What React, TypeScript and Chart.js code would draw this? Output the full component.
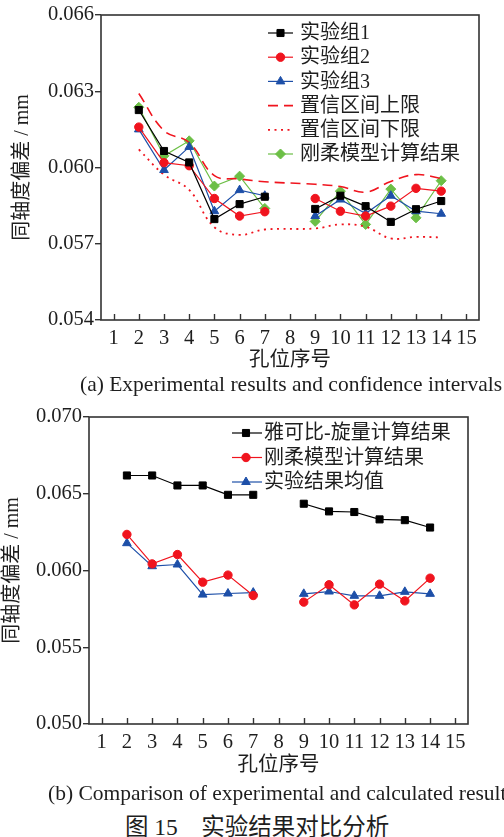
import React, { useEffect, useRef } from 'react';
import { Chart, registerables } from 'chart.js';
import { drawPoint } from 'chart.js/helpers';

Chart.register(...registerables);

// ---------- data ----------
const holeLabels = ['1', '2', '3', '4', '5', '6', '7', '8', '9', '10', '11', '12', '13', '14', '15'];

const yTicksA = [0.054, 0.057, 0.06, 0.063, 0.066];
const yTicksB = [0.05, 0.055, 0.06, 0.065, 0.07];

// chart (a)
const exp1 = [null, 0.06226, 0.06065, 0.0602, 0.05797, 0.05856, 0.05885, null, 0.05837, 0.05889, 0.05848, 0.05786, 0.05836, 0.05868, null];
const exp2 = [null, 0.06159, 0.06019, 0.06007, 0.05878, 0.05809, 0.05826, null, 0.05878, 0.05828, 0.05809, 0.05848, 0.05918, 0.05907, null];
const exp3 = [null, 0.0615, 0.0599, 0.06081, 0.05828, 0.05911, 0.05889, null, 0.05809, 0.05874, 0.05819, 0.05889, 0.05828, 0.05818, null];
const upperLimit = [null, 0.06291, 0.06145, 0.06098, 0.05968, 0.05955, 0.05944, null, 0.05934, 0.05925, 0.05903, 0.05945, 0.05972, 0.05957, null];
const lowerLimit = [null, 0.06071, 0.05972, 0.05912, 0.05765, 0.05735, 0.05756, null, 0.0576, 0.05776, 0.05767, 0.05721, 0.05727, 0.05725, null];
const rigidA = [null, 0.06237, 0.06046, 0.06105, 0.05927, 0.05966, 0.05839, null, 0.05788, 0.05907, 0.05776, 0.05915, 0.05802, 0.05948, null];

// chart (b)
const jacobi = [null, 0.06619, 0.06619, 0.06554, 0.06554, 0.06493, 0.06493, null, 0.06435, 0.06385, 0.06381, 0.06333, 0.06328, 0.0628, null];
const rigidB = [null, 0.06235, 0.06043, 0.06104, 0.05924, 0.0597, 0.05837, null, 0.05794, 0.05907, 0.05776, 0.05911, 0.05802, 0.0595, null];
const expMean = [null, 0.06178, 0.06028, 0.06039, 0.05843, 0.0585, 0.05856, null, 0.05848, 0.05863, 0.05835, 0.05835, 0.05861, 0.05848, null];

const namesA = ['实验组1', '实验组2', '实验组3', '置信区间上限', '置信区间下限', '刚柔模型计算结果'];
const namesB = ['雅可比-旋量计算结果', '刚柔模型计算结果', '实验结果均值'];

const xTitle = '孔位序号';
const yTitle = '同轴度偏差 / mm';
const captionA = '(a) Experimental results and confidence intervals';
const captionB = '(b) Comparison of experimental and calculated results';
const figCaption = '图 15\u3000实验结果对比分析';

// ---------- styles ----------
const FONT = "'Liberation Serif', 'Noto Sans CJK SC', serif";
const TXT = '#1e1e1e';
const AX = '#333';
const BLACK = '#000000';
const RED = '#f0141e';
const BLUE = '#1d4fa8';
const GREEN = '#6cbf46';

const insideLegend = {
  id: 'insideLegend',
  afterDatasetsDraw(chart: any, _args: any, opts: any) {
    const ctx = chart.ctx;
    chart.data.datasets.forEach((ds: any, i: number) => {
      const y = opts.y0 + i * opts.step;
      ctx.save();
      ctx.strokeStyle = ds.borderColor;
      ctx.lineWidth = ds.borderWidth;
      ctx.setLineDash(ds.borderDash || []);
      ctx.lineCap = ds.borderCapStyle || 'butt';
      ctx.beginPath();
      ctx.moveTo(opts.x0, y);
      ctx.lineTo(opts.x1, y);
      ctx.stroke();
      ctx.setLineDash([]);
      if (ds.pointRadius > 0) {
        ctx.fillStyle = ds.pointBackgroundColor;
        ctx.strokeStyle = ds.pointBorderColor;
        ctx.lineWidth = ds.pointBorderWidth;
        drawPoint(ctx, { pointStyle: ds.pointStyle, radius: ds.pointRadius, borderWidth: ds.pointBorderWidth, rotation: 0 }, opts.xm, y);
      }
      ctx.fillStyle = TXT;
      ctx.font = `20px ${FONT}`;
      ctx.textBaseline = 'middle';
      ctx.textAlign = 'left';
      ctx.fillText(ds.label, opts.xt, y + 1);
      ctx.restore();
    });
  },
};

const frame = {
  id: 'frame',
  afterDraw(chart: any) {
    const { ctx, chartArea: a, scales } = chart;
    const x = scales.x;
    ctx.save();
    ctx.strokeStyle = AX;
    ctx.lineWidth = 1.6;
    ctx.strokeRect(a.left, a.top, a.right - a.left, a.bottom - a.top);
    ctx.lineWidth = 1.4;
    x.ticks.forEach((_t: any, i: number) => {
      const px = Math.round(x.getPixelForTick(i)) + 0.5;
      ctx.beginPath();
      ctx.moveTo(px, a.bottom);
      ctx.lineTo(px, a.bottom - 6);
      ctx.stroke();
    });
    ctx.restore();
  },
};

function lineDs(label: string, data: any[], color: string, style: any, radius: number, fill?: string) {
  return {
    label,
    data,
    borderColor: color,
    backgroundColor: fill || color,
    borderWidth: 1.2,
    pointStyle: style,
    pointRadius: radius,
    pointHoverRadius: radius,
    pointBackgroundColor: fill || color,
    pointBorderColor: fill || color,
    pointBorderWidth: 1,
    spanGaps: false,
    tension: 0,
  };
}

function limitDs(label: string, data: any[], dash: number[], width: number) {
  return {
    label,
    data,
    borderColor: RED,
    backgroundColor: RED,
    borderWidth: width,
    borderDash: dash,
    pointRadius: 0,
    pointHoverRadius: 0,
    pointStyle: 'circle',
    spanGaps: true,
    tension: 0.4,
    pointBackgroundColor: RED,
    pointBorderColor: RED,
    pointBorderWidth: 0,
  };
}

function makeOptions(yTicks: number[], yMin: number, yMax: number, geo: any) {
  return {
    responsive: false,
    animation: false,
    devicePixelRatio: 1,
    layout: { padding: { top: geo.padTop, right: geo.padRight, left: 0, bottom: 0 } },
    plugins: {
      legend: { display: false },
      tooltip: { enabled: false },
      insideLegend: geo.legend,
    },
    scales: {
      x: {
        type: 'category',
        offset: true,
        grid: { display: false, drawTicks: false },
        border: { display: false },
        ticks: { color: TXT, font: { family: FONT, size: 20.5 }, padding: geo.xPad, maxRotation: 0, autoSkip: false },
        title: { display: true, text: xTitle, color: TXT, font: { family: FONT, size: 20.5 }, padding: { top: 0, bottom: geo.xTitlePad } },
        afterFit: (s: any) => { s.height = geo.xHeight; },
      },
      y: {
        type: 'linear',
        min: yMin,
        max: yMax,
        afterBuildTicks: (s: any) => { s.ticks = yTicks.map((v) => ({ value: v })); },
        grid: { display: true, drawOnChartArea: false, drawTicks: true, tickLength: 6, color: AX, lineWidth: 1.4 },
        border: { display: false },
        ticks: { color: TXT, font: { family: FONT, size: 20.5 }, padding: 1, callback: (v: any) => Number(v).toFixed(3) },
        title: { display: true, text: yTitle, color: TXT, font: { family: FONT, size: 20 }, padding: { top: geo.yTitlePad, bottom: 0 } },
        afterFit: (s: any) => { s.width = geo.yWidth; },
      },
    },
  };
}

function ChartA() {
  const ref = useRef<HTMLCanvasElement>(null);
  useEffect(() => {
    const chart = new Chart(ref.current as HTMLCanvasElement, {
      type: 'line',
      data: {
        labels: holeLabels,
        datasets: [
          lineDs(namesA[0], exp1, BLACK, 'rect', 5),
          lineDs(namesA[1], exp2, RED, 'circle', 4.2),
          lineDs(namesA[2], exp3, BLUE, 'triangle', 5),
          limitDs(namesA[3], upperLimit, [10, 6], 1.6),
          limitDs(namesA[4], lowerLimit, [2, 4.5], 1.8),
          lineDs(namesA[5], rigidA, GREEN, 'rectRot', 5),
        ] as any,
      },
      options: makeOptions(yTicksA, 0.054, 0.066, {
        padTop: 15, padRight: 25, yWidth: 101, xHeight: 55, xPad: 6, xTitlePad: 2, yTitlePad: 11,
        legend: { x0: 268, x1: 293, xm: 280.5, xt: 300, y0: 33, step: 24.2 },
      }) as any,
      plugins: [insideLegend, frame],
    });
    return () => chart.destroy();
  }, []);
  return <canvas ref={ref} width={504} height={375} style={{ position: 'absolute', left: 0, top: 0, width: 504, height: 375 }} />;
}

function ChartB() {
  const ref = useRef<HTMLCanvasElement>(null);
  useEffect(() => {
    const chart = new Chart(ref.current as HTMLCanvasElement, {
      type: 'line',
      data: {
        labels: holeLabels,
        datasets: [
          lineDs(namesB[0], jacobi, BLACK, 'rect', 5),
          lineDs(namesB[1], rigidB, RED, 'circle', 4.2),
          lineDs(namesB[2], expMean, BLUE, 'triangle', 5),
        ] as any,
      },
      options: makeOptions(yTicksB, 0.05, 0.07, {
        padTop: 22, padRight: 36, yWidth: 89, xHeight: 56, xPad: 6, xTitlePad: 2, yTitlePad: 1,
        legend: { x0: 232, x1: 262, xm: 246, xt: 264, y0: 38, step: 24.5 },
      }) as any,
      plugins: [insideLegend, frame],
    });
    return () => chart.destroy();
  }, []);
  return <canvas ref={ref} width={504} height={385} style={{ position: 'absolute', left: 0, top: 395, width: 504, height: 385 }} />;
}

export default function App() {
  const cap: React.CSSProperties = {
    position: 'absolute',
    whiteSpace: 'nowrap',
    fontFamily: FONT,
    color: TXT,
    fontSize: 21.5,
    lineHeight: '22px',
  };
  return (
    <div style={{ position: 'absolute', left: 0, top: 0, width: 504, height: 837, background: '#fff', overflow: 'hidden' }}>
      <ChartA />
      <div style={{ ...cap, left: 80, top: 373 }}>{captionA}</div>
      <ChartB />
      <div style={{ ...cap, left: 48, top: 782 }}>{captionB}</div>
      <div style={{ ...cap, left: 125, top: 814, fontSize: 23.5, lineHeight: '26px' }}>{figCaption}</div>
    </div>
  );
}
